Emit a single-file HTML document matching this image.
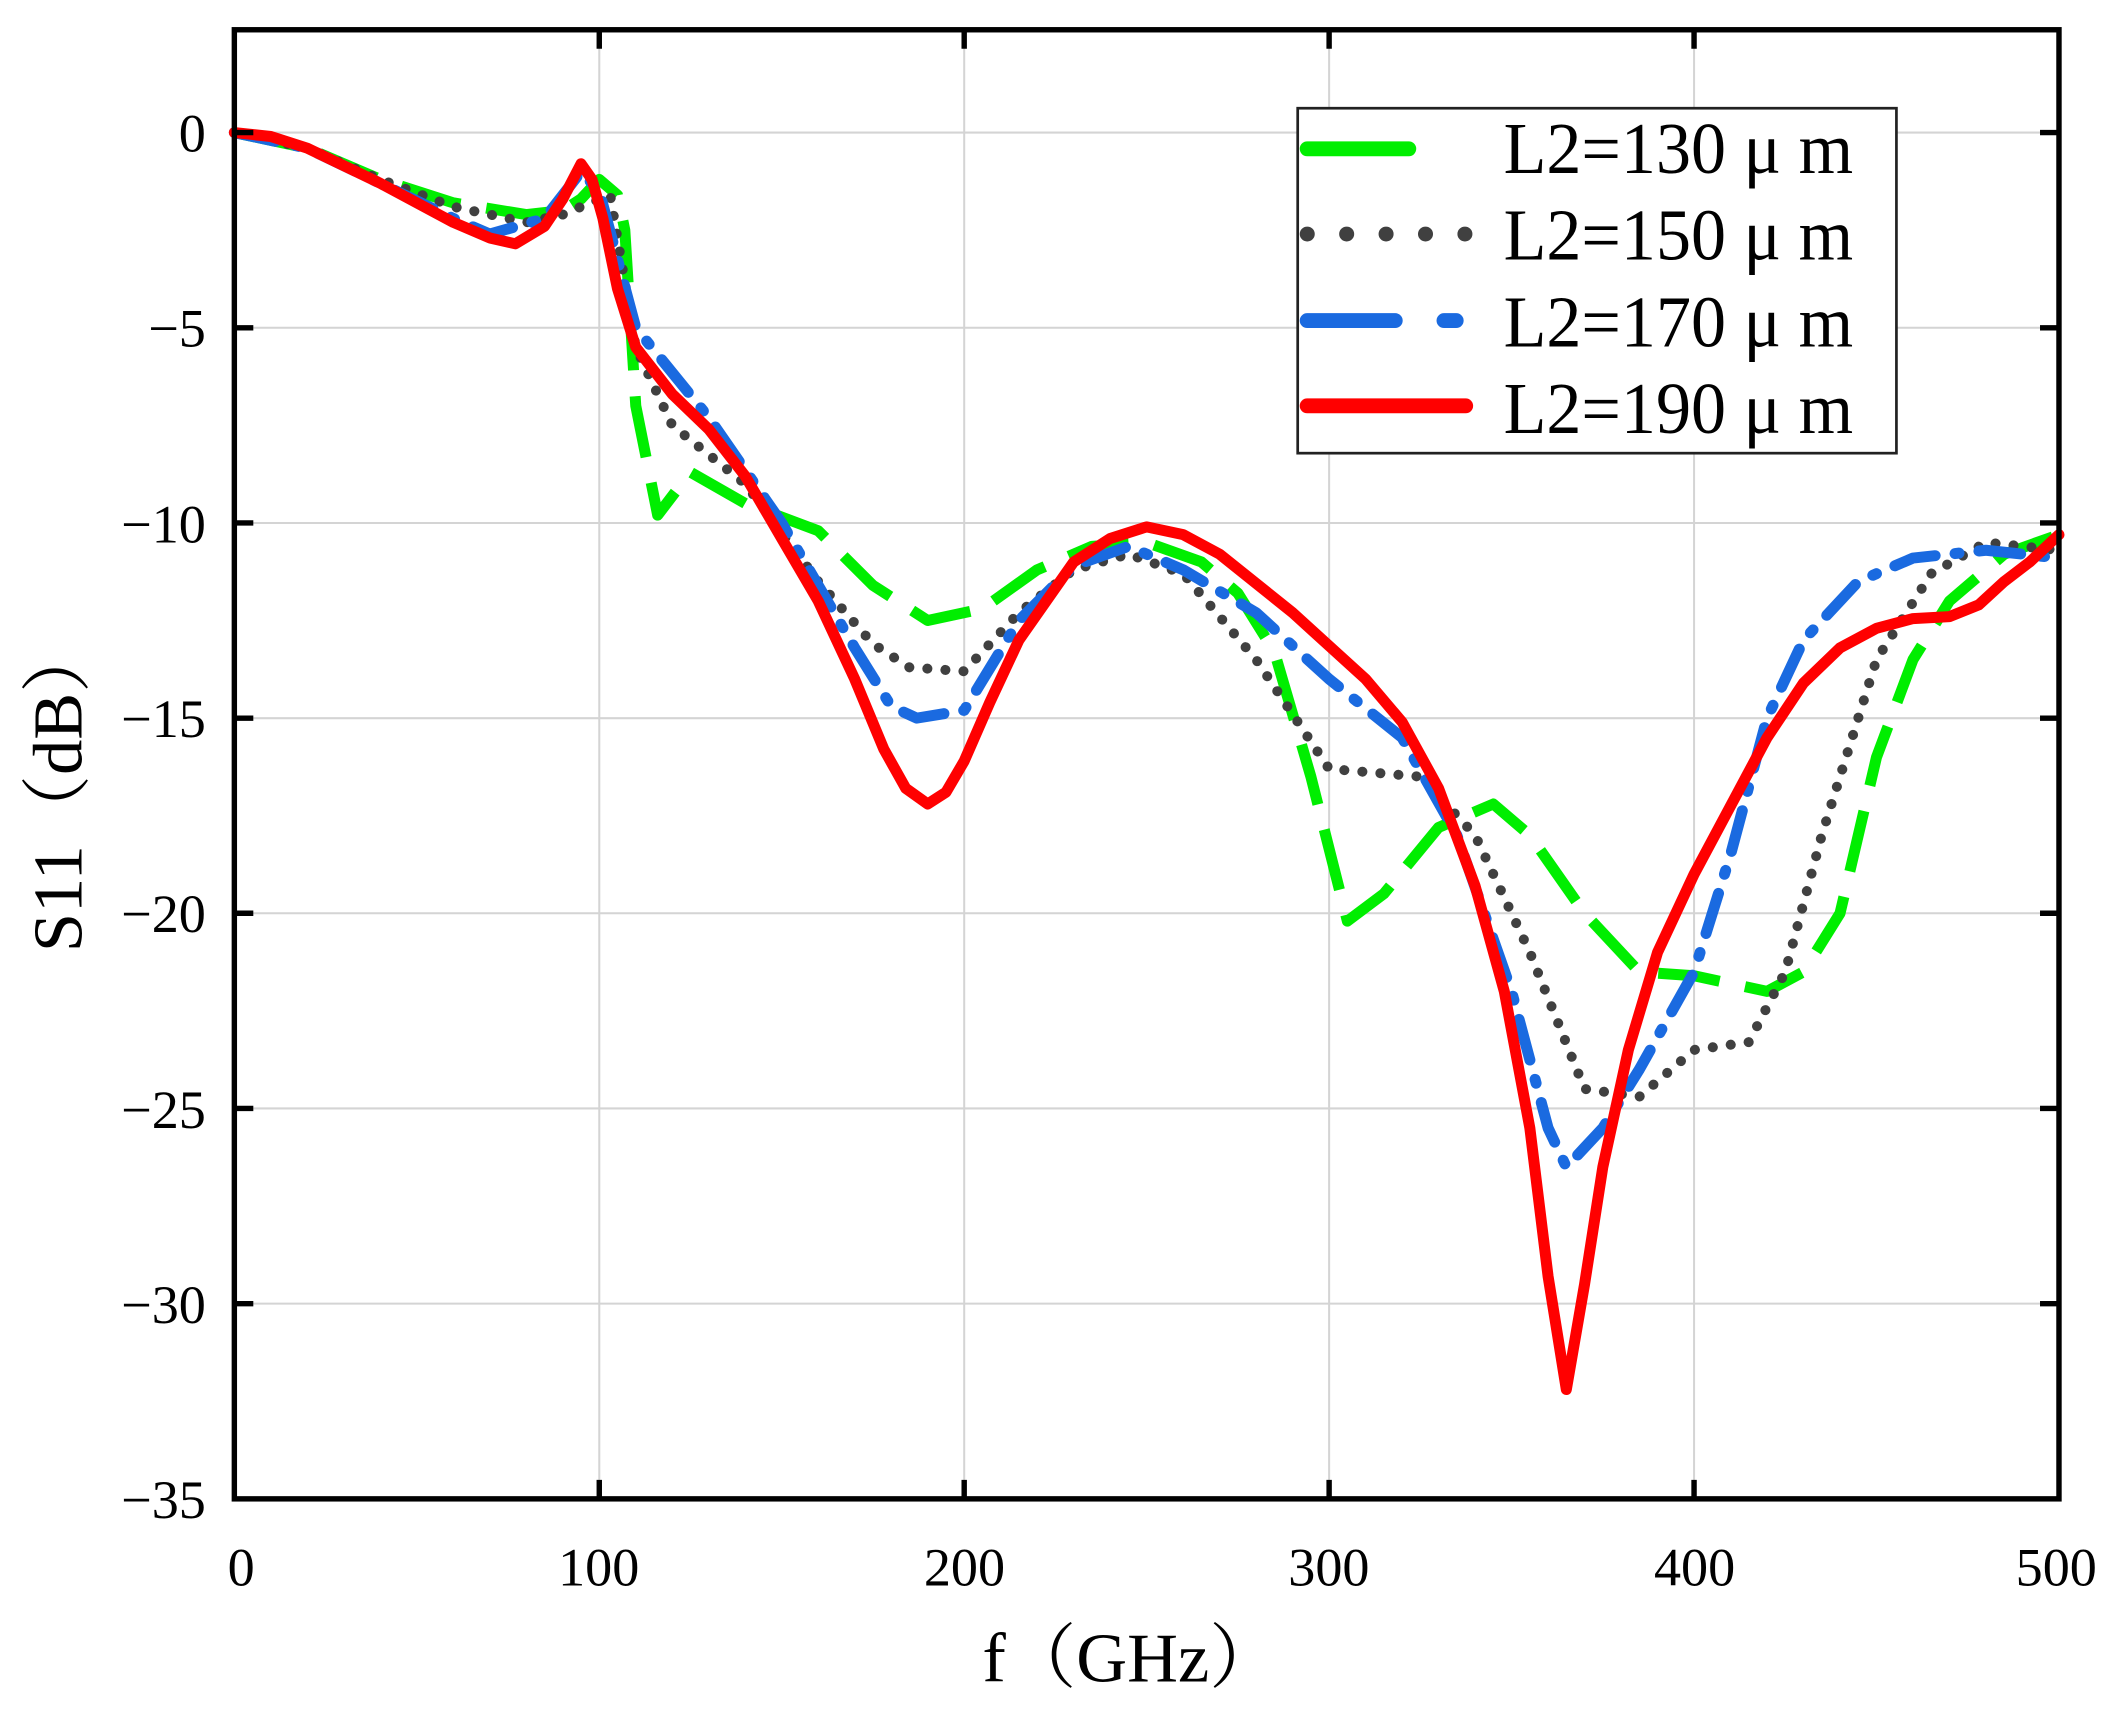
<!DOCTYPE html>
<html><head><meta charset="utf-8"><style>html,body{margin:0;padding:0;background:#fff}svg{display:block}</style></head>
<body>
<svg width="2124" height="1718" viewBox="0 0 1568 1270" preserveAspectRatio="none" xmlns="http://www.w3.org/2000/svg" font-family="Liberation Serif, serif">
<rect width="1568" height="1270" fill="#fff"/>
<g stroke="#d4d4d4" stroke-width="1.5">
<line x1="442.4" y1="22" x2="442.4" y2="1108"/><line x1="711.8" y1="22" x2="711.8" y2="1108"/><line x1="981.2" y1="22" x2="981.2" y2="1108"/><line x1="1250.6" y1="22" x2="1250.6" y2="1108"/>
<line x1="173" y1="98" x2="1520" y2="98"/><line x1="173" y1="242.3" x2="1520" y2="242.3"/><line x1="173" y1="386.6" x2="1520" y2="386.6"/><line x1="173" y1="530.9" x2="1520" y2="530.9"/><line x1="173" y1="675.1" x2="1520" y2="675.1"/><line x1="173" y1="819.4" x2="1520" y2="819.4"/><line x1="173" y1="963.7" x2="1520" y2="963.7"/>
</g>
<g fill="none" stroke-linejoin="round" stroke-linecap="round" transform="matrix(2.694 0 0 -28.857 173 98)">
<polyline vector-effect="non-scaling-stroke" stroke="#00ee00" stroke-width="11" stroke-dasharray="62 26" stroke-linecap="butt" points="0,0 20,-0.4 40,-1.2 60,-1.8 80,-2.1 90,-2 95,-1.7 100,-1.2 105,-1.6 107,-2.5 110,-7 116,-9.8 125,-8.7 140,-9.5 160,-10.2 175,-11.6 190,-12.5 205,-12.2 220,-11.2 235,-10.6 250,-10.5 265,-11 275,-11.8 285,-13.3 295,-16.5 305,-20.2 315,-19.5 330,-17.8 345,-17.2 355,-18 370,-20 385,-21.5 400,-21.6 420,-22 430,-21.5 440,-20 450,-16 460,-13.5 470,-12 485,-10.8 500,-10.3"/>
<polyline vector-effect="non-scaling-stroke" stroke="#404040" stroke-width="10" stroke-dasharray="0.1 18" points="0,0 20,-0.4 40,-1.2 60,-1.9 80,-2.3 90,-2.1 95,-1.9 103,-1.6 110,-5.5 120,-7.5 140,-9 160,-11.5 175,-13.1 185,-13.7 200,-13.8 215,-12.3 230,-11.2 245,-10.8 260,-11.3 280,-13.5 300,-16.3 325,-16.5 340,-18 355,-21 370,-24.5 385,-24.7 400,-23.5 415,-23.3 425,-21.5 435,-18 450,-13.5 465,-11.3 480,-10.5 500,-10.7"/>
<polyline vector-effect="non-scaling-stroke" stroke="#1a6ae0" stroke-width="11" stroke-dasharray="42 20 4 20" points="0,0 20,-0.4 40,-1.3 60,-2.2 70,-2.6 85,-2.2 95,-1 100,-1.5 110,-5 130,-7.3 150,-10 170,-13.2 180,-14.7 187,-15 200,-14.8 215,-12.5 230,-11.1 245,-10.6 260,-11.2 280,-12.3 300,-14 320,-15.5 335,-18 350,-22 360,-25.5 365,-26.5 375,-25.5 385,-24 400,-21.5 410,-18.5 420,-15 430,-13 445,-11.5 460,-10.9 480,-10.7 500,-10.9"/>
<polyline vector-effect="non-scaling-stroke" stroke="#ff0000" stroke-width="11" points="0,0 10,-0.1 20,-0.4 40,-1.3 60,-2.3 70,-2.7 77,-2.85 85,-2.4 90,-1.7 95,-0.8 98,-1.2 101,-2.2 105,-4 110,-5.5 120,-6.7 130,-7.6 140,-8.8 150,-10.4 160,-12 170,-14 178,-15.8 184,-16.8 190,-17.2 195,-16.9 200,-16.1 207,-14.6 215,-13 230,-11 240,-10.4 250,-10.1 260,-10.3 270,-10.8 290,-12.3 310,-14 320,-15.1 330,-16.8 340,-19.3 348,-22 355,-25.5 360,-29.3 365,-32.2 370,-29.5 375,-26.5 382,-23.5 390,-21 400,-19 420,-15.5 430,-14.1 440,-13.2 450,-12.7 460,-12.45 470,-12.4 478,-12.1 485,-11.5 492,-11 500,-10.3"/>
</g>
<rect x="173" y="22" width="1347" height="1086" fill="none" stroke="#000" stroke-width="4"/>
<g stroke="#000" stroke-width="4">
<path d="M173,98h14M173,242.3h14M173,386.6h14M173,530.9h14M173,675.1h14M173,819.4h14M173,963.7h14"/>
<path d="M1520,98h-14M1520,242.3h-14M1520,386.6h-14M1520,530.9h-14M1520,675.1h-14M1520,819.4h-14M1520,963.7h-14"/>
<path d="M442.4,1108v-14M711.8,1108v-14M981.2,1108v-14M1250.6,1108v-14M442.4,22v14M711.8,22v14M981.2,22v14M1250.6,22v14"/>
</g>
<rect x="958" y="80" width="442" height="255" fill="#fff" stroke="#222" stroke-width="2"/>
<g stroke-width="11" stroke-linecap="round">
<line x1="965" y1="110" x2="1040" y2="110" stroke="#00ee00"/>
<line x1="965" y1="173" x2="1085" y2="173" stroke="#404040" stroke-dasharray="0.1 29"/>
<line x1="965" y1="237" x2="1030" y2="237" stroke="#1a6ae0"/><line x1="1066" y1="237" x2="1075" y2="237" stroke="#1a6ae0"/>
<line x1="965" y1="300" x2="1082" y2="300" stroke="#ff0000"/>
</g>
<g font-size="54" fill="#000">
<text x="1110" y="128" textLength="258" lengthAdjust="spacingAndGlyphs">L2=130 μ m</text>
<text x="1110" y="192" textLength="258" lengthAdjust="spacingAndGlyphs">L2=150 μ m</text>
<text x="1110" y="256" textLength="258" lengthAdjust="spacingAndGlyphs">L2=170 μ m</text>
<text x="1110" y="320" textLength="258" lengthAdjust="spacingAndGlyphs">L2=190 μ m</text>
</g>
<g font-size="40" fill="#000" text-anchor="end">
<text x="152" y="112">0</text><text x="152" y="256">−5</text><text x="152" y="401">−10</text><text x="152" y="545">−15</text><text x="152" y="689">−20</text><text x="152" y="834">−25</text><text x="152" y="978">−30</text><text x="152" y="1122">−35</text>
</g>
<g font-size="40" fill="#000" text-anchor="middle">
<text x="178" y="1172">0</text><text x="442" y="1172">100</text><text x="712" y="1172">200</text><text x="981" y="1172">300</text><text x="1251" y="1172">400</text><text x="1518" y="1172">500</text>
</g>
<text x="835" y="1243" font-size="52" text-anchor="middle" font-family="Liberation Serif, Noto Serif CJK SC, serif">f（GHz）</text>
<text transform="translate(60,582) rotate(-90)" font-size="52" text-anchor="middle" font-family="Liberation Serif, Noto Serif CJK SC, serif">S11（dB）</text>
</svg>
</body></html>
